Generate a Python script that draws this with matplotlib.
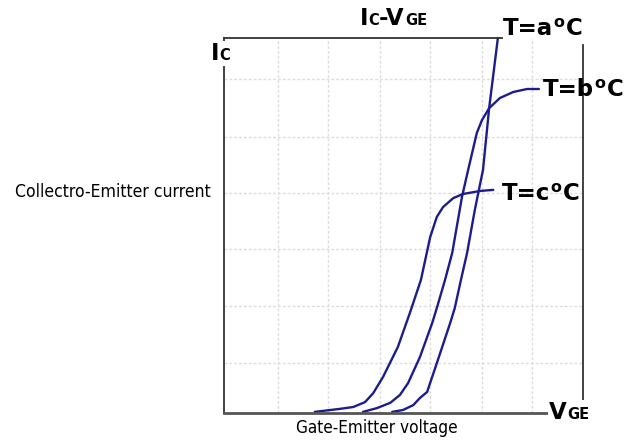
import matplotlib.pyplot as plt
import matplotlib.font_manager as fm
from matplotlib.offsetbox import TextArea, HPacker, AnnotationBbox

# curve data (x: gate-emitter voltage, y: collector current, arbitrary units)
a_x = [3.28, 3.49, 3.69, 3.82, 3.96, 4.15, 4.41, 4.50, 4.62, 4.74, 4.89, 4.97, 5.05, 5.17, 5.34]
a_y = [0.3, 0.8, 2.1, 4.0, 5.6, 13.3, 24.0, 28.0, 35.5, 42.7, 54.1, 59.5, 64.8, 81.3, 100.0]

b_x = [2.71, 2.98, 3.24, 3.43, 3.59, 3.82, 4.06, 4.15, 4.31, 4.45, 4.64, 4.76, 4.93, 5.03,
       5.17, 5.38, 5.64, 5.91, 6.14]
b_y = [0.3, 1.3, 2.7, 4.8, 8.0, 14.9, 24.0, 28.0, 35.5, 42.7, 57.6, 64.8, 74.7, 78.1,
       81.3, 84.0, 85.6, 86.4, 86.4]

c_x = [1.77, 2.26, 2.52, 2.75, 2.91, 3.10, 3.39, 3.63, 3.84, 4.02, 4.15, 4.27, 4.47, 4.66,
       4.99, 5.25]
c_y = [0.3, 1.1, 1.6, 2.9, 5.3, 9.6, 17.6, 26.9, 35.5, 46.9, 52.3, 54.9, 57.3, 58.4,
       59.2, 59.5]

x_grid = [1.05, 2.03, 3.04, 4.02, 5.03, 6.0]
y_grid = [13.3, 28.5, 43.7, 58.7, 73.6, 89.1]

line_color = '#1c1c8e'
W, H = 638, 441

# look for a condensed sans font for the axis captions
narrow = None
for f in fm.fontManager.ttflist:
    st = str(f.stretch).lower()
    if ('condensed' in st or 'narrow' in f.name.lower() or 'condensed' in f.name.lower()) \
            and f.weight in (400, 'normal', 'regular') and f.style == 'normal':
        narrow = fm.FontProperties(fname=f.fname)
        break
if narrow is None:
    narrow = fm.FontProperties(family='Liberation Sans')

fig = plt.figure(figsize=(6.38, 4.41), dpi=100)
ax = fig.add_axes([224 / W, 1 - 413 / H, 359 / W, 375 / H])
ax.set_xlim(0, 7)
ax.set_ylim(0, 100)

# grid
for gx in x_grid:
    ax.axvline(gx, color='#dcdcdc', lw=1, ls=(0, (2, 1.5)), zorder=0)
for gy in y_grid:
    ax.axhline(gy, color='#dcdcdc', lw=1, ls=(0, (2, 1.5)), zorder=0)

# spines
for s in ax.spines.values():
    s.set_color('#333333')
ax.spines['left'].set_linewidth(1.3)
ax.spines['bottom'].set_linewidth(2)
ax.spines['bottom'].set_color('#555555')
ax.spines['bottom'].set_bounds(0, 6.32)
ax.spines['top'].set_linewidth(1.3)
ax.spines['top'].set_bounds(0, 5.42)
ax.spines['right'].set_visible(False)
ax.plot([7, 7], [2.9, 98.1], color='#333333', lw=1.3, clip_on=False)
ax.set_xticks([])
ax.set_yticks([])

# curves
for xs, ys in [(a_x, a_y), (b_x, b_y), (c_x, c_y)]:
    ax.plot(xs, ys, color=line_color, lw=1.7, clip_on=False,
            solid_capstyle='round', solid_joinstyle='round')


def packed(parts, x, y_base, white=False):
    boxes = [TextArea(s, textprops=dict(fontsize=fs, fontweight='bold', color='black',
                                        family='DejaVu Sans'))
             for s, fs in parts]
    pack = HPacker(children=boxes, align='baseline', pad=0, sep=0)
    ab = AnnotationBbox(pack, (x, H - y_base), xycoords='figure pixels',
                        box_alignment=(0, 0), frameon=white, pad=0.05,
                        bboxprops=dict(facecolor='white', edgecolor='none'))
    ab.set_zorder(5)
    fig.add_artist(ab)


big, small = 16.5, 10.5
deg = r'$^{\mathbf{o}}$'
packed([('I', big), ('C', small), ('-V', big), ('GE', small)], 360, 30)
packed([('I', big), ('C', small)], 211, 65, white=True)
packed([('V', big), ('GE', small)], 549, 424, white=True)

packed([('T=a', big), (deg, big), ('C', big)], 503, 40)
packed([('T=b', big), (deg, big), ('C', big)], 543, 101)
packed([('T=c', big), (deg, big), ('C', big)], 502, 205)

fp_y = narrow.copy()
fp_y.set_size(12.6)
fp_x = narrow.copy()
fp_x.set_size(12.3)
fig.text(15 / W, 1 - 192 / H, 'Collectro-Emitter current',
         fontproperties=fp_y, va='center', ha='left')
fig.text(377 / W, 1 - 428 / H, 'Gate-Emitter voltage',
         fontproperties=fp_x, va='center', ha='center')

fig.savefig('out.png', dpi=100)
